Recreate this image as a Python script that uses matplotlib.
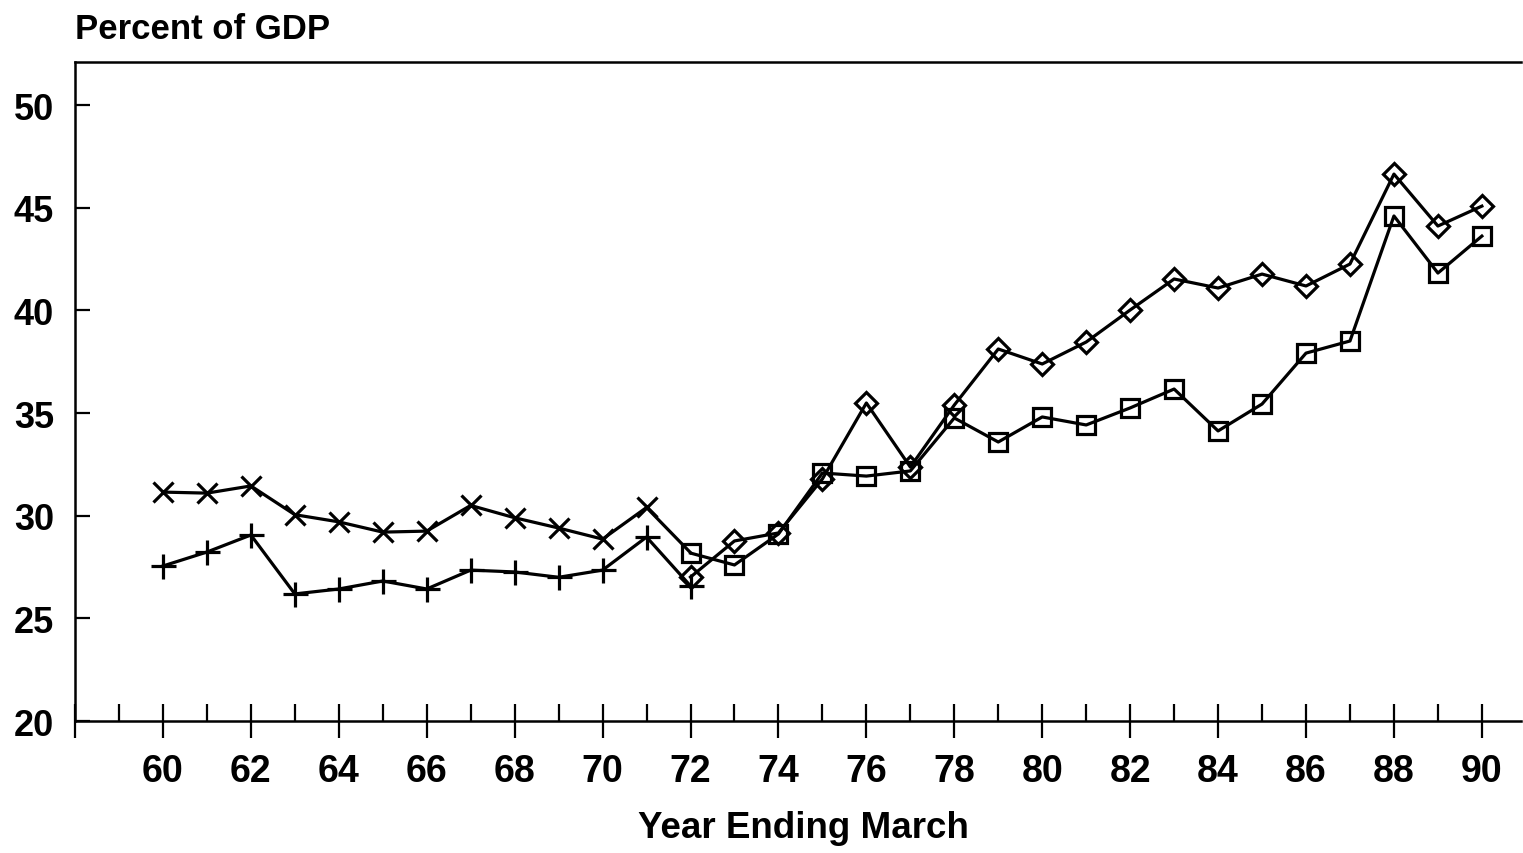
import matplotlib
matplotlib.use("Agg")
import matplotlib.pyplot as plt
import numpy as np

plt.rcParams['font.family'] = ['Liberation Sans', 'DejaVu Sans']
plt.rcParams['font.weight'] = 'bold'

years_early = [60, 61, 62, 63, 64, 65, 66, 67, 68, 69, 70, 71, 72]
series_x = [31.15, 31.1, 31.45, 30.05, 29.7, 29.2, 29.25, 30.5, 29.9, 29.4, 28.86, 30.4, 28.2]
series_plus = [27.55, 28.23, 29.06, 26.19, 26.43, 26.82, 26.43, 27.35, 27.26, 27.0, 27.35, 28.96, 26.58]

years_late = [72, 73, 74, 75, 76, 77, 78, 79, 80, 81, 82, 83, 84, 85, 86, 87, 88, 89, 90]
series_diamond = [27.01, 28.77, 29.16, 31.79, 35.49, 32.37, 35.39, 38.12, 37.39, 38.46, 40.02,
                  41.53, 41.09, 41.77, 41.19, 42.26, 46.64, 44.11, 45.08]
series_square = [28.18, 27.6, 29.11, 32.08, 31.93, 32.18, 34.76, 33.59, 34.81, 34.42, 35.25,
                 36.17, 34.13, 35.44, 37.92, 38.51, 44.6, 41.82, 43.62]

major_ticks = list(range(58, 91, 2))
major_labels = ['' if t == 58 else str(t) for t in major_ticks]
minor_ticks = list(range(59, 91, 2))
y_ticks = [20, 25, 30, 35, 40, 45, 50]

W, H = 1523, 854
fig = plt.figure(figsize=(W / 100, H / 100), dpi=100)
ax = fig.add_axes([75 / W, 1 - 722 / H, (1521 - 75) / W, (722 - 63) / H])

lw = 2.3
ax.plot(years_early, series_x, color='black', lw=lw, marker='x', markersize=15,
        markeredgewidth=lw, markevery=list(range(len(years_early) - 1)))
ax.plot(years_early, series_plus, color='black', lw=lw, marker='+', markersize=18,
        markeredgewidth=lw)
ax.plot(years_late, series_diamond, color='black', lw=lw, marker='D', markersize=11,
        markerfacecolor='none', markeredgewidth=lw)
ax.plot(years_late, series_square, color='black', lw=lw, marker='s', markersize=13,
        markerfacecolor='none', markeredgewidth=lw)

ax.set_xlim(58, 90.89)
ax.set_ylim(20, 52.1)

ax.set_xticks(major_ticks)
ax.set_xticklabels(major_labels)
ax.set_xticks(minor_ticks, minor=True)
ax.tick_params(axis='x', which='major', direction='inout', length=24.5, width=1.6,
               labelsize=27, pad=11)
ax.tick_params(axis='x', which='minor', direction='in', length=12, width=1.6)
ax.set_yticks(y_ticks)
ax.tick_params(axis='y', which='major', direction='in', length=11, width=1.6,
               labelsize=26, pad=15)

for lab in ax.get_xticklabels() + ax.get_yticklabels():
    lab.set_fontweight('bold')

ax.spines['right'].set_visible(False)
for s in ['left', 'bottom', 'top']:
    ax.spines[s].set_linewidth(1.8)

fig.text(803 / W, 1 - 838 / H, 'Year Ending March', fontsize=26.5, fontweight='bold',
         ha='center', va='baseline')
fig.text(75 / W, 1 - 39 / H, 'Percent of GDP', fontsize=25, fontweight='bold',
         ha='left', va='baseline')

fig.savefig('out.png', dpi=100, facecolor='white')
